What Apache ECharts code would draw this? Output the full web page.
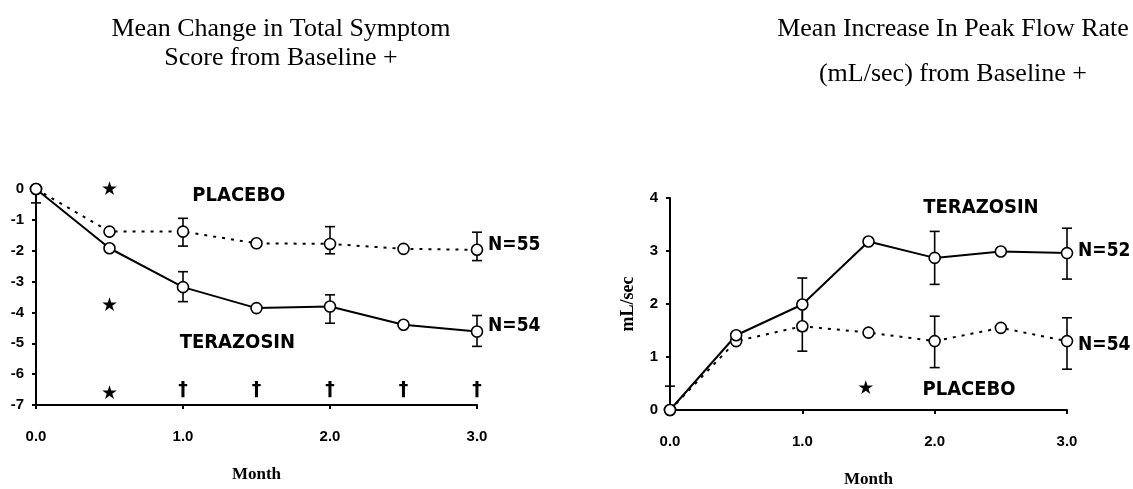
<!DOCTYPE html>
<html>
<head>
<meta charset="utf-8">
<title>Terazosin vs Placebo</title>
<script src="https://cdn.jsdelivr.net/npm/echarts@6/dist/echarts.min.js"></script>
<style>
  html, body { margin: 0; padding: 0; background: #fff; }
  #chart { width: 1133px; height: 489px; }
</style>
</head>
<body>
<div id="chart"></div>
<script>
// months on both x axes
var months = [0, 0.5, 1, 1.5, 2, 2.5, 3]
var xTicks = ['0.0', '1.0', '2.0', '3.0']

// left panel: mean change in total symptom score
var symptomPlacebo = [0, -1.38, -1.38, -1.76, -1.78, -1.94, -1.97]
var symptomTerazosin = [0, -1.92, -3.18, -3.86, -3.81, -4.4, -4.62]
// [month, low, high]
var symptomPlaceboErr = [[1, -1.85, -0.95], [2, -2.1, -1.22], [3, -2.32, -1.4]]
var symptomTerazosinErr = [[0, -0.45, 0], [1, -3.65, -2.68], [2, -4.35, -3.43], [3, -5.1, -4.1]]
var symptomStars = [[0.5, -0.05], [0.5, -3.8], [0.5, -6.65]]
var symptomDaggers = [[1, -6.5], [1.5, -6.5], [2, -6.5], [2.5, -6.5], [3, -6.5]]

// right panel: mean increase in peak flow rate
var flowTerazosin = [0, 1.41, 1.99, 3.18, 2.87, 2.99, 2.96]
var flowPlacebo = [0, 1.3, 1.58, 1.46, 1.3, 1.55, 1.3]
var flowTerazosinErr = [[0, 0, 0.45], [1, 1.5, 2.49], [2, 2.37, 3.37], [3, 2.47, 3.43]]
var flowPlaceboErr = [[1, 1.11, 2.05], [2, 0.8, 1.77], [3, 0.77, 1.74]]
var flowStars = [[1.48, 0.39]]

// text annotations placed in data space
var symptomNotes = [['PLACEBO', 1.38, -0.23], ['TERAZOSIN', 1.37, -5.0]]
var symptomCounts = [['N=55', 3, -1.82], ['N=54', 3, -4.43]]
var flowNotes = [['TERAZOSIN', 2.35, 3.82], ['PLACEBO', 2.26, 0.39]]
var flowCounts = [['N=52', 3, 3.0], ['N=54', 3, 1.22]]

var ink = '#000'
var labelFont = "'DejaVu Sans Condensed', 'Liberation Sans', sans-serif"
var tickFont = "'Liberation Sans', Arial, sans-serif"
var serif = "'Liberation Serif', 'Times New Roman', serif"

function pairs(ys) {
  return months.map(function(m, i) { return [m, ys[i]] })
}

function errorSeries(data, idx) {
  return {
    type: 'custom',
    xAxisIndex: idx,
    yAxisIndex: idx,
    z: 1,
    silent: true,
    data: data,
    renderItem: function(params, api) {
      var lo = api.coord([api.value(0), api.value(1)])
      var hi = api.coord([api.value(0), api.value(2)])
      var w = 5
      var style = { stroke: ink, lineWidth: 1.6 }
      return {
        type: 'group',
        children: [
          { type: 'line', shape: { x1: lo[0], y1: lo[1], x2: hi[0], y2: hi[1] }, style: style },
          { type: 'line', shape: { x1: lo[0] - w, y1: lo[1], x2: lo[0] + w, y2: lo[1] }, style: style },
          { type: 'line', shape: { x1: hi[0] - w, y1: hi[1], x2: hi[0] + w, y2: hi[1] }, style: style }
        ]
      }
    }
  }
}

function lineSeries(ys, idx, dotted) {
  return {
    type: 'line',
    xAxisIndex: idx,
    yAxisIndex: idx,
    z: 3,
    data: pairs(ys),
    symbol: 'circle',
    symbolSize: 11,
    itemStyle: { color: '#fff', borderColor: ink, borderWidth: 1.6 },
    lineStyle: dotted ? { color: ink, width: 2, type: [3, 6] } : { color: ink, width: 2 },
    animation: false
  }
}

// text-only scatter, used for labels and the star / dagger marks
function textSeries(items, idx, style) {
  return {
    type: 'scatter',
    xAxisIndex: idx,
    yAxisIndex: idx,
    symbolSize: 0,
    silent: true,
    z: 4,
    itemStyle: { opacity: 1 },
    data: items.map(function(d) { return { name: d[0], value: [d[1], d[2]] } }),
    label: Object.assign({
      show: true,
      position: 'inside',
      color: ink,
      formatter: '{b}'
    }, style)
  }
}

function marks(points, glyph) {
  return points.map(function(p) { return [glyph, p[0], p[1]] })
}

var noteStyle = { fontFamily: labelFont, fontWeight: 'bold', fontSize: 20 }
var countStyle = Object.assign({}, noteStyle, { position: 'right', distance: 11, fontSize: 19 })
var starStyle = { fontFamily: 'DejaVu Sans', fontSize: 19 }
var daggerStyle = { fontFamily: 'DejaVu Sans', fontWeight: 'bold', fontSize: 19 }

function xAxis(idx) {
  return {
    type: 'value',
    gridIndex: idx,
    min: 0,
    max: 3,
    interval: 1,
    axisLine: { show: true, onZero: false, lineStyle: { color: ink, width: 2 } },
    axisTick: { show: true, length: 4, lineStyle: { color: ink, width: 2 } },
    splitLine: { show: false },
    axisLabel: {
      margin: 24,
      color: ink,
      fontFamily: tickFont,
      fontWeight: 'bold',
      fontSize: 15,
      formatter: function(v) { return xTicks[v] }
    },
    name: 'Month',
    nameLocation: 'middle',
    nameGap: 61,
    nameTextStyle: { fontFamily: serif, fontWeight: 'bold', fontSize: 17, color: ink }
  }
}

function yAxis(idx, min, max) {
  return {
    type: 'value',
    gridIndex: idx,
    min: min,
    max: max,
    interval: 1,
    axisLine: { show: true, onZero: false, lineStyle: { color: ink, width: 2 } },
    axisTick: { show: true, length: 4, lineStyle: { color: ink, width: 2 } },
    splitLine: { show: false },
    axisLabel: {
      margin: 12,
      color: ink,
      fontFamily: tickFont,
      fontWeight: 'bold',
      fontSize: 15
    }
  }
}

var chart = echarts.init(document.getElementById('chart'))

var rightY = yAxis(1, 0, 4)
rightY.name = 'mL/sec'
rightY.nameLocation = 'middle'
rightY.nameGap = 33
rightY.nameTextStyle = { fontFamily: serif, fontWeight: 'bold', fontSize: 18, color: ink }

chart.setOption({
  backgroundColor: '#fff',
  animation: false,
  title: [
    {
      text: 'Mean Change in Total Symptom\nScore from Baseline +',
      left: 276,
      top: 10,
      textAlign: 'center',
      textStyle: { fontFamily: serif, fontWeight: 'normal', fontSize: 26, lineHeight: 29, color: '#000' }
    },
    {
      text: 'Mean Increase In Peak Flow Rate\n(mL/sec) from Baseline +',
      left: 948,
      top: 2,
      textAlign: 'center',
      textStyle: { fontFamily: serif, fontWeight: 'normal', fontSize: 26, lineHeight: 45, color: '#000' }
    }
  ],
  grid: [
    { left: 36, top: 189, width: 441, height: 216 },
    { left: 670, top: 198, width: 397, height: 213 }
  ],
  xAxis: [xAxis(0), xAxis(1)],
  yAxis: [yAxis(0, -7, 0), rightY],
  series: [
    errorSeries(symptomPlaceboErr, 0),
    errorSeries(symptomTerazosinErr, 0),
    lineSeries(symptomPlacebo, 0, true),
    lineSeries(symptomTerazosin, 0, false),
    textSeries(symptomNotes, 0, noteStyle),
    textSeries(symptomCounts, 0, countStyle),
    textSeries(marks(symptomStars, '★'), 0, starStyle),
    textSeries(marks(symptomDaggers, '†'), 0, daggerStyle),

    errorSeries(flowTerazosinErr, 1),
    errorSeries(flowPlaceboErr, 1),
    lineSeries(flowPlacebo, 1, true),
    lineSeries(flowTerazosin, 1, false),
    textSeries(flowNotes, 1, noteStyle),
    textSeries(flowCounts, 1, countStyle),
    textSeries(marks(flowStars, '★'), 1, starStyle)
  ]
})
</script>
</body>
</html>
